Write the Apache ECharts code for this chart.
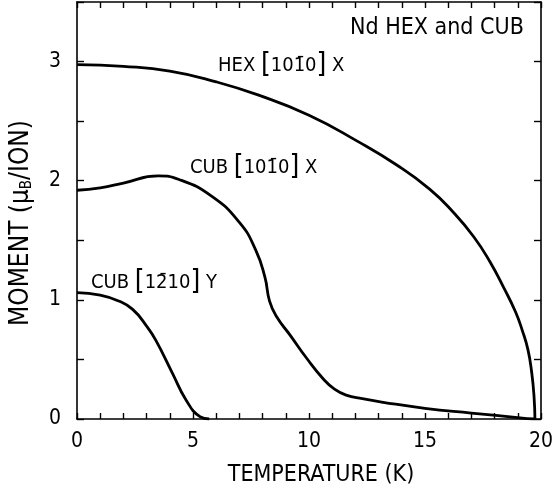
<!DOCTYPE html>
<html>
<head>
<meta charset="utf-8">
<script src="https://cdn.jsdelivr.net/npm/echarts@6/dist/echarts.min.js"></script>
<style>
  html, body { margin: 0; padding: 0; background: #fff; }
  #chart { width: 556px; height: 493px; }
</style>
</head>
<body>
<div id="chart"></div>
<script>
// temperature (K) / moment (muB per ion)
const hexT = [0, 2, 4, 6, 7.8, 10, 12.1, 13.8, 15.2, 16.2, 17.1, 17.8, 18.4, 18.9, 19.2, 19.44, 19.6, 19.7, 19.74];
const hexM = [2.975, 2.96, 2.92, 2.83, 2.72, 2.55, 2.33, 2.13, 1.93, 1.74, 1.53, 1.32, 1.10, 0.90, 0.74, 0.58, 0.39, 0.19, 0];

const cubXT = [0, 1, 2, 3.5, 4.4, 5.8, 7.0, 7.7, 8.1, 8.3, 8.6, 9.2, 9.9, 10.6, 11.1, 11.6, 12.3, 13.2, 15, 17, 19.1, 19.7];
const cubXM = [1.92, 1.94, 1.98, 2.04, 2.01, 1.87, 1.65, 1.42, 1.19, 0.99, 0.86, 0.70, 0.51, 0.34, 0.25, 0.20, 0.17, 0.14, 0.09, 0.05, 0.01, 0];

const cubYT = [0, 1, 1.8, 2.4, 3.0, 3.4, 4.1, 4.7, 5.3, 5.7];
const cubYM = [1.06, 1.04, 0.99, 0.92, 0.78, 0.66, 0.39, 0.16, 0.02, 0];

const xTicks = [0, 5, 10, 15, 20];
const yTicks = [0, 1, 2, 3];

const FONT = "'DejaVu Sans Condensed', 'DejaVu Sans'";

function pairs(xs, ys) {
    return xs.map((x, i) => [x, ys[i]]);
}

function curve(xs, ys) {
    return {
        type: "line",
        data: pairs(xs, ys),
        smooth: 0.5,
        showSymbol: false,
        lineStyle: { color: "#000", width: 2.8 },
    };
}

const tick = { inside: true, length: 6, lineStyle: { color: "#000", width: 1.4 } };
const axisCommon = {
    axisLine: { onZero: false, lineStyle: { color: "#000", width: 1.6 } },
    splitLine: { show: false },
};

const bracketRich = {
    b: { fontFamily: FONT, fontSize: 28, fill: "#000", color: "#000" },
};

function label(x, y, text) {
    return {
        type: "text", x: x, y: y,
        style: {
            text: text, fill: "#000", fontFamily: FONT, fontSize: 20,
            verticalAlign: "middle", rich: bracketRich,
        },
    };
}

const chart = echarts.init(document.getElementById("chart"));
chart.setOption({
    animation: false,
    backgroundColor: "#fff",
    grid: { left: 77, right: 11, top: 2, bottom: 74 },
    xAxis: [
        {
            ...axisCommon,
            type: "value", min: 0, max: 20, interval: 1,
            axisTick: tick,
            axisLabel: {
                color: "#000", fontFamily: FONT, fontSize: 21, margin: 12,
                formatter: v => (xTicks.includes(v) ? String(v) : ""),
            },
        },
        {
            ...axisCommon,
            type: "value", min: 0, max: 20, interval: 1, position: "top",
            axisTick: tick,
            axisLabel: { show: false },
        },
    ],
    yAxis: [
        {
            ...axisCommon,
            type: "value", min: 0, max: 3.5, interval: 0.5,
            axisTick: { ...tick, length: 7 },
            axisLabel: {
                color: "#000", fontFamily: FONT, fontSize: 21, margin: 16,
                formatter: v => (yTicks.includes(v) ? String(v) : ""),
            },
        },
        {
            ...axisCommon,
            type: "value", min: 0, max: 3.5, interval: 0.5, position: "right",
            axisTick: { ...tick, length: 7 },
            axisLabel: { show: false },
        },
    ],
    graphic: [
        {
            type: "text", x: 321, y: 475,
            style: {
                text: "TEMPERATURE (K)", fill: "#000", fontFamily: FONT, fontSize: 23,
                align: "center", verticalAlign: "middle",
            },
        },
        {
            type: "text", x: 21, y: 223, rotation: Math.PI / 2,
            style: {
                text: "MOMENT (μ{s|B}/ION)", fill: "#000", fontFamily: FONT, fontSize: 26,
                align: "center", verticalAlign: "middle",
                rich: { s: { fontFamily: FONT, fontSize: 15, fill: "#000", padding: [13, 0, 0, 0] } },
            },
        },
        {
            type: "text", x: 350, y: 28,
            style: { text: "Nd HEX and CUB", fill: "#000", fontFamily: FONT, fontSize: 23, verticalAlign: "middle" },
        },
        label(218, 66, "HEX {b|[}101̄0{b|]} X"),
        label(190, 168, "CUB {b|[}101̄0{b|]} X"),
        label(91, 283, "CUB {b|[}12̄10{b|]} Y"),
    ],
    series: [
        curve(hexT, hexM),
        curve(cubXT, cubXM),
        curve(cubYT, cubYM),
    ],
});
</script>
</body>
</html>
